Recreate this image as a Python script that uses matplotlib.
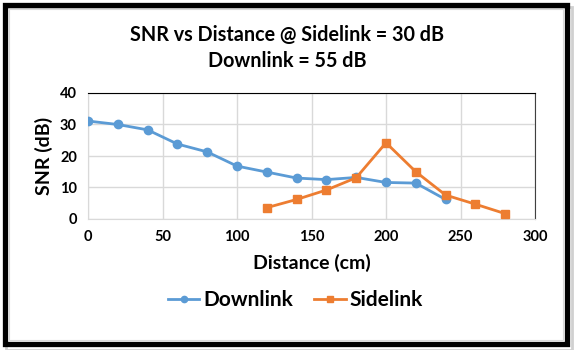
import matplotlib.pyplot as plt
from matplotlib.patches import Rectangle

# data
dist_down = [0, 20, 40, 60, 80, 100, 120, 140, 160, 180, 200, 220, 240]
snr_down = [31.1, 30.0, 28.3, 23.8, 21.3, 16.8, 14.9, 13.0, 12.5, 13.2, 11.6, 11.4, 6.2]
dist_side = [120, 140, 160, 180, 200, 220, 240, 260, 280]
snr_side = [3.6, 6.2, 9.2, 13.1, 24.2, 15.0, 7.6, 4.7, 1.7]
xticks = [0, 50, 100, 150, 200, 250, 300]
yticks = [0, 10, 20, 30, 40]

plt.rcParams['font.family'] = ['Lato', 'DejaVu Sans']

fig = plt.figure(figsize=(5.74, 3.5), dpi=100)
ax = fig.add_axes([88 / 574, 1 - 219 / 350, (535 - 88) / 574, (219 - 93) / 350])

# outer frame with shadow
fig.patches.append(Rectangle((6 / 574, 0), 566 / 574, 343 / 350, transform=fig.transFigure,
                             fill=False, lw=2, ec='#d0d0d0', zorder=0))
fig.patches.append(Rectangle((4.5 / 574, 1 - 343.5 / 350), 562 / 574, 339 / 350,
                             transform=fig.transFigure, fill=False, lw=3.8, ec='black', zorder=1))
fig.patches.append(Rectangle((8.5 / 574, 1 - 339.5 / 350), 554 / 574, 331 / 350,
                             transform=fig.transFigure, fill=False, lw=0.8, ec='#d9d9d9', zorder=1))

ax.plot(dist_down, snr_down, color='#5B9BD5', lw=2, marker='o', ms=6, label='Downlink', zorder=3)
ax.plot(dist_side, snr_side, color='#ED7D31', lw=2, marker='s', ms=6, label='Sidelink', zorder=4)

ax.set_xlim(0, 300)
ax.set_ylim(0, 40)
ax.set_xticks(xticks)
ax.set_yticks(yticks)
ax.grid(True, color='#d9d9d9', lw=1)
ax.set_axisbelow(True)
ax.tick_params(length=0, pad=8, labelsize=10.5)
for lab in ax.get_xticklabels() + ax.get_yticklabels():
    lab.set_fontweight('bold')

ax.spines['top'].set_color('black')
ax.spines['right'].set_color('#404040')
ax.spines['left'].set_color('#d9d9d9')
ax.spines['bottom'].set_color('#d9d9d9')

ax.set_xlabel('Distance (cm)', fontsize=14, fontweight='bold', labelpad=7)
ax.set_ylabel('SNR (dB)', fontsize=14, fontweight='bold', labelpad=5)

fig.text(0.5, 1 - 35 / 350, 'SNR vs Distance @ Sidelink = 30 dB', ha='center', va='center',
         fontsize=14.2, fontweight='bold')
fig.text(0.5, 1 - 61 / 350, 'Downlink = 55 dB', ha='center', va='center',
         fontsize=14.2, fontweight='bold')

fig.legend(loc='center', bbox_to_anchor=(0.515, 1 - 300 / 350), ncol=2, frameon=False,
           prop={'size': 15, 'weight': 'bold'}, handlelength=1.5, handletextpad=0.2,
           columnspacing=1.0, markerscale=0.75)

fig.savefig('out.png', dpi=100)
